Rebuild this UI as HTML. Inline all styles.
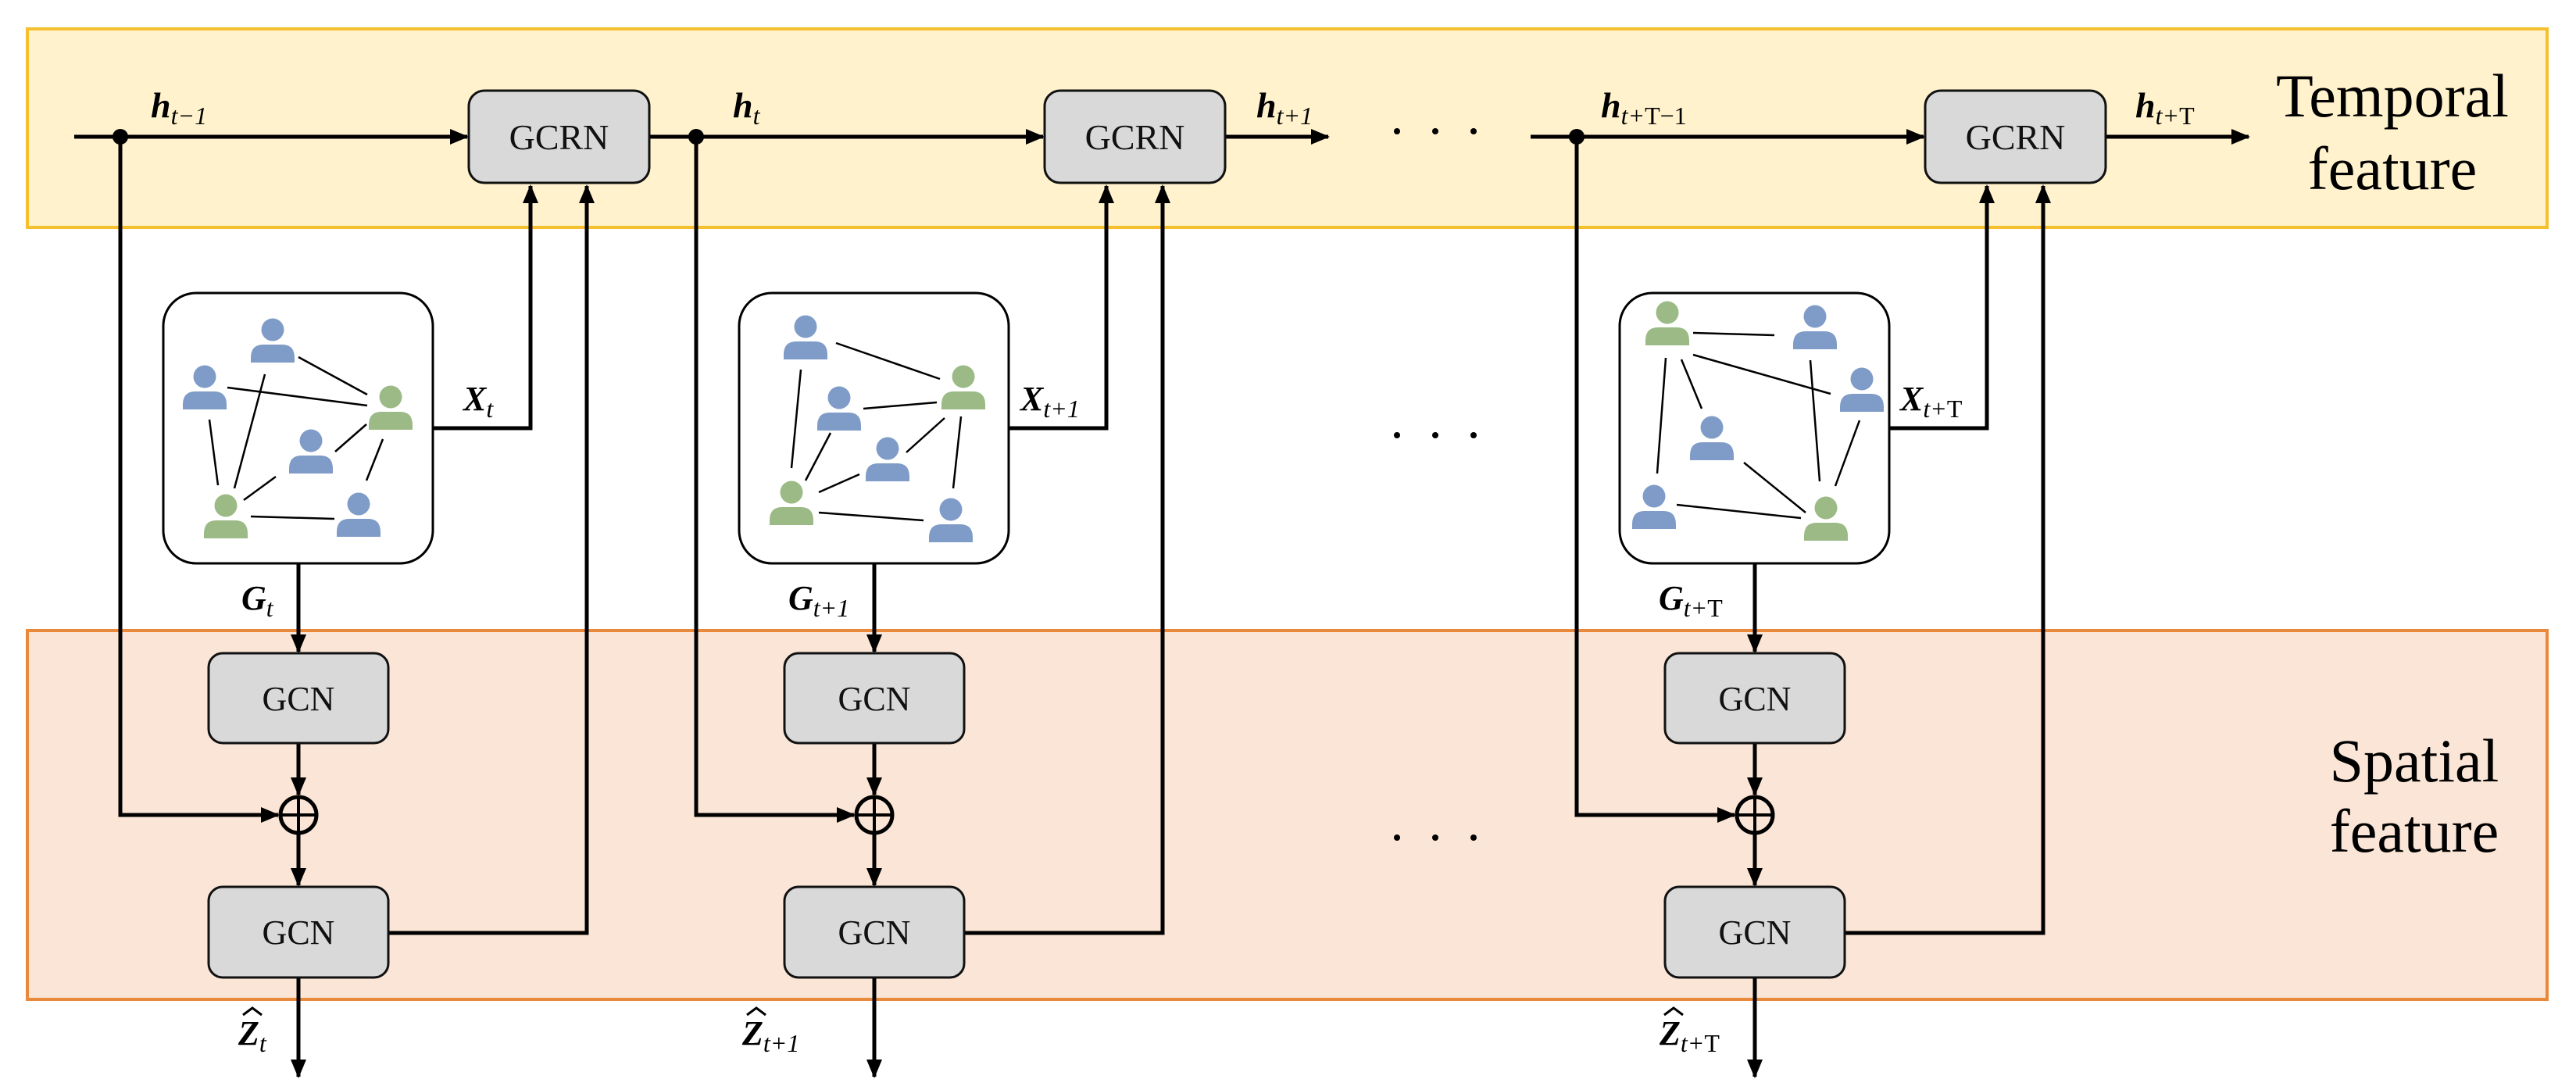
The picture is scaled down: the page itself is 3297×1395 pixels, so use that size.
<!DOCTYPE html>
<html><head><meta charset="utf-8"><style>
html,body{margin:0;padding:0;background:#fff}
svg{display:block}
text{font-family:"Liberation Serif",serif}
</style></head><body>
<svg width="3297" height="1395" viewBox="0 0 3297 1395" xmlns="http://www.w3.org/2000/svg">
<defs>
<marker id="a" markerUnits="userSpaceOnUse" markerWidth="24" markerHeight="20" refX="22" refY="10" orient="auto"><path d="M0,0 L24,10 L0,20 Z" fill="#000"/></marker>
<g id="pb"><circle cx="0" cy="0" r="14.5" fill="#7f9bc7"/><path d="M-28,42 L-28,36 Q-28,19 -12,19 L12,19 Q28,19 28,36 L28,42 Z" fill="#7f9bc7"/></g>
<g id="pg"><circle cx="0" cy="0" r="14.5" fill="#9bba85"/><path d="M-28,42 L-28,36 Q-28,19 -12,19 L12,19 Q28,19 28,36 L28,42 Z" fill="#9bba85"/></g>
</defs>
<rect x="35" y="37" width="3225" height="254" fill="#fff2cc" stroke="#f4c030" stroke-width="4"/>
<rect x="35" y="807" width="3225" height="472" fill="#fbe5d6" stroke="#e8893c" stroke-width="4"/>
<text x="3062" y="149" font-size="78" text-anchor="middle">Temporal</text>
<text x="3062" y="242" font-size="78" text-anchor="middle">feature</text>
<text x="3090" y="1000" font-size="78" text-anchor="middle">Spatial</text>
<text x="3090" y="1090" font-size="78" text-anchor="middle">feature</text>

<g stroke="#000" stroke-width="5" fill="none">
<line x1="95" y1="175" x2="598" y2="175" marker-end="url(#a)"/>
<line x1="831" y1="175" x2="1335" y2="175" marker-end="url(#a)"/>
<line x1="1567" y1="175" x2="1700" y2="175" marker-end="url(#a)"/>
<line x1="1959" y1="175" x2="2462" y2="175" marker-end="url(#a)"/>
<line x1="2694" y1="175" x2="2878" y2="175" marker-end="url(#a)"/>
</g>
<g fill="#000">
<circle cx="1788" cy="168" r="4"/><circle cx="1837" cy="168" r="4"/><circle cx="1886" cy="168" r="4"/>
<circle cx="1788" cy="557" r="4"/><circle cx="1837" cy="557" r="4"/><circle cx="1886" cy="557" r="4"/>
<circle cx="1788" cy="1072" r="4"/><circle cx="1837" cy="1072" r="4"/><circle cx="1886" cy="1072" r="4"/>
</g>

<g id="col">
<g stroke="#000" stroke-width="5" fill="none">
<polyline points="154,175 154,1043 356,1043" marker-end="url(#a)"/>
<polyline points="554,548 679,548 679,238" marker-end="url(#a)"/>
<line x1="382" y1="721" x2="382" y2="834" marker-end="url(#a)"/>
<line x1="382" y1="951" x2="382" y2="1017" marker-end="url(#a)"/>
<line x1="382" y1="1067" x2="382" y2="1133" marker-end="url(#a)"/>
<polyline points="497,1194 751,1194 751,238" marker-end="url(#a)"/>
<line x1="382" y1="1251" x2="382" y2="1378" marker-end="url(#a)"/>
</g>
<circle cx="154" cy="175" r="10" fill="#000"/>
<rect x="209" y="375" width="345" height="346" rx="42" fill="#fff" stroke="#000" stroke-width="3"/>
<rect x="600" y="116" width="231" height="118" rx="20" fill="#d9d9d9" stroke="#111" stroke-width="3"/>
<text x="715.5" y="191" font-size="46" text-anchor="middle" fill="#111">GCRN</text>
<rect x="267" y="836" width="230" height="115" rx="18" fill="#d9d9d9" stroke="#111" stroke-width="3"/>
<text x="382" y="909" font-size="44" text-anchor="middle" fill="#111">GCN</text>
<rect x="267" y="1135" width="230" height="116" rx="18" fill="#d9d9d9" stroke="#111" stroke-width="3"/>
<text x="382" y="1208" font-size="44" text-anchor="middle" fill="#111">GCN</text>
<circle cx="382" cy="1043" r="23" fill="none" stroke="#000" stroke-width="5"/>
<line x1="359" y1="1043" x2="405" y2="1043" stroke="#000" stroke-width="4"/>
<line x1="382" y1="1020" x2="382" y2="1066" stroke="#000" stroke-width="4"/>
</g>
<use href="#col" transform="translate(737,0)"/>
<use href="#col" transform="translate(1864,0)"/>

<g font-style="italic">
<text x="193" y="150"><tspan font-size="46" font-weight="bold">h</tspan><tspan font-size="32" font-weight="normal" dy="9">t−1</tspan></text>
<text x="938" y="150"><tspan font-size="46" font-weight="bold">h</tspan><tspan font-size="32" font-weight="normal" dy="9">t</tspan></text>
<text x="1608" y="150"><tspan font-size="46" font-weight="bold">h</tspan><tspan font-size="32" font-weight="normal" dy="9">t+1</tspan></text>
<text x="2049" y="150"><tspan font-size="46" font-weight="bold">h</tspan><tspan font-size="32" font-weight="normal" dy="9">t+</tspan><tspan font-size="32" font-weight="normal" font-style="normal">T−1</tspan></text>
<text x="2733" y="150"><tspan font-size="46" font-weight="bold">h</tspan><tspan font-size="32" font-weight="normal" dy="9">t+</tspan><tspan font-size="32" font-weight="normal" font-style="normal">T</tspan></text>

<text x="593" y="525"><tspan font-size="44" font-weight="bold">X</tspan><tspan font-size="32" font-weight="normal" dy="9">t</tspan></text>
<text x="1306" y="525"><tspan font-size="44" font-weight="bold">X</tspan><tspan font-size="32" font-weight="normal" dy="9">t+1</tspan></text>
<text x="2432" y="525"><tspan font-size="44" font-weight="bold">X</tspan><tspan font-size="32" font-weight="normal" dy="9">t+</tspan><tspan font-size="32" font-weight="normal" font-style="normal">T</tspan></text>

<text x="309" y="780"><tspan font-size="44" font-weight="bold">G</tspan><tspan font-size="32" font-weight="normal" dy="9">t</tspan></text>
<text x="1009" y="780"><tspan font-size="44" font-weight="bold">G</tspan><tspan font-size="32" font-weight="normal" dy="9">t+1</tspan></text>
<text x="2123" y="780"><tspan font-size="44" font-weight="bold">G</tspan><tspan font-size="32" font-weight="normal" dy="9">t+</tspan><tspan font-size="32" font-weight="normal" font-style="normal">T</tspan></text>

<text x="305" y="1337"><tspan font-size="44" font-weight="bold">Z</tspan><tspan font-size="32" font-weight="normal" dy="9">t</tspan></text>
<text x="950" y="1337"><tspan font-size="44" font-weight="bold">Z</tspan><tspan font-size="32" font-weight="normal" dy="9">t+1</tspan></text>
<text x="2124" y="1337"><tspan font-size="44" font-weight="bold">Z</tspan><tspan font-size="32" font-weight="normal" dy="9">t+</tspan><tspan font-size="32" font-weight="normal" font-style="normal">T</tspan></text>
</g>
<g fill="none" stroke="#000" stroke-width="3">
<polyline points="311,1299 323,1290 335,1299"/>
<polyline points="956,1299 968,1290 980,1299"/>
<polyline points="2130,1299 2142,1290 2154,1299"/>
</g>

<g stroke="#000" stroke-width="2.5">
<line x1="382" y1="457" x2="470" y2="505"/><line x1="291" y1="496" x2="470" y2="519"/>
<line x1="339" y1="479" x2="300" y2="625"/><line x1="268" y1="537" x2="279" y2="621"/>
<line x1="469" y1="543" x2="429" y2="578"/><line x1="490" y1="562" x2="469" y2="615"/>
<line x1="353" y1="610" x2="312" y2="640"/><line x1="321" y1="661" x2="428" y2="664"/>
</g>
<use href="#pb" x="349" y="422"/><use href="#pb" x="262" y="482"/><use href="#pg" x="500" y="508"/>
<use href="#pb" x="398" y="564"/><use href="#pg" x="289" y="647"/><use href="#pb" x="459" y="645"/>

<g stroke="#000" stroke-width="2.5">
<line x1="1070" y1="439" x2="1203" y2="485"/><line x1="1025" y1="473" x2="1013" y2="599"/>
<line x1="1105" y1="523" x2="1199" y2="515"/><line x1="1063" y1="554" x2="1031" y2="615"/>
<line x1="1209" y1="535" x2="1160" y2="579"/><line x1="1230" y1="533" x2="1220" y2="625"/>
<line x1="1100" y1="607" x2="1048" y2="630"/><line x1="1048" y1="656" x2="1182" y2="666"/>
</g>
<use href="#pb" x="1031" y="418"/><use href="#pg" x="1233" y="482"/><use href="#pb" x="1074" y="509"/>
<use href="#pb" x="1136" y="574"/><use href="#pg" x="1013" y="630"/><use href="#pb" x="1217" y="652"/>

<g stroke="#000" stroke-width="2.5">
<line x1="2167" y1="426" x2="2271" y2="429"/><line x1="2167" y1="454" x2="2343" y2="504"/>
<line x1="2132" y1="458" x2="2121" y2="606"/><line x1="2152" y1="460" x2="2178" y2="523"/>
<line x1="2317" y1="461" x2="2329" y2="616"/><line x1="2380" y1="538" x2="2349" y2="622"/>
<line x1="2232" y1="592" x2="2311" y2="656"/><line x1="2146" y1="646" x2="2305" y2="663"/>
</g>
<use href="#pg" x="2134" y="400"/><use href="#pb" x="2323" y="405"/><use href="#pb" x="2383" y="485"/>
<use href="#pb" x="2191" y="547"/><use href="#pb" x="2117" y="635"/><use href="#pg" x="2337" y="650"/>
</svg>
</body></html>
